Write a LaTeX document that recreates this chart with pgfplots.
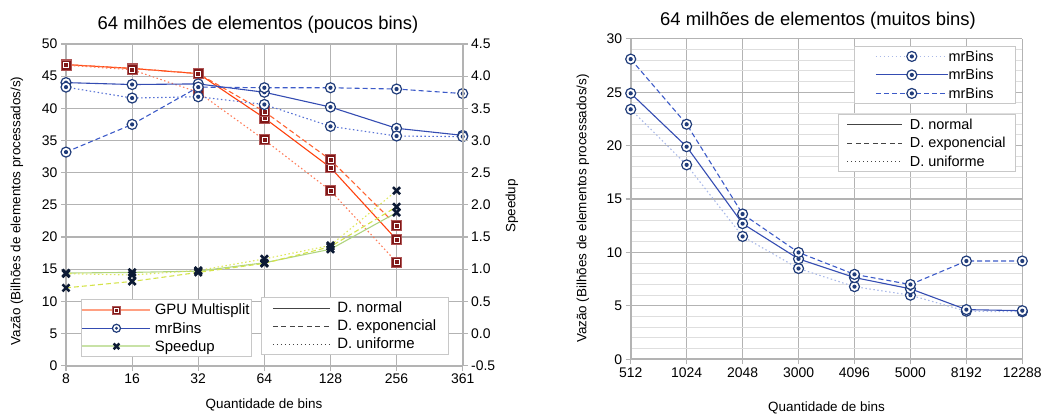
\documentclass[border=0pt]{standalone}
\usepackage{fontspec}
\setmainfont{Liberation Sans}
\usepackage{pgfplots}
\usepackage{pgfplotstable}
\pgfplotsset{compat=1.18}

\definecolor{gridc}{RGB}{179,179,179}
\definecolor{minorc}{RGB}{222,222,222}
\definecolor{legc}{RGB}{200,200,200}
\definecolor{gpuN}{RGB}{255,66,14}
\definecolor{gpuE}{RGB}{255,100,50}
\definecolor{gpuU}{RGB}{255,125,90}
\definecolor{gpuLeg}{RGB}{255,160,130}
\definecolor{gpuFill}{RGB}{128,24,24}
\definecolor{gpuEdge}{RGB}{175,85,85}
\definecolor{mrN}{RGB}{52,76,178}
\definecolor{mrE}{RGB}{60,90,200}
\definecolor{mrU}{RGB}{85,112,212}
\definecolor{mrUlight}{RGB}{170,185,232}
\definecolor{mrDot}{RGB}{32,60,122}
\definecolor{spN}{RGB}{176,212,128}
\definecolor{spE}{RGB}{212,227,74}
\definecolor{spU}{RGB}{222,232,90}
\definecolor{spLeg}{RGB}{200,226,166}
\definecolor{spMark}{RGB}{12,26,52}
\definecolor{styleLeg}{RGB}{68,68,68}

\pgfdeclareplotmark{gpusq}{%
  \pgfsetlinewidth{0.8bp}%
  \pgfsetstrokecolor{gpuEdge}\pgfsetfillcolor{gpuFill}%
  \pgfpathrectangle{\pgfqpoint{-\pgfplotmarksize}{-\pgfplotmarksize}}{\pgfqpoint{2\pgfplotmarksize}{2\pgfplotmarksize}}%
  \pgfusepathqfillstroke
  \pgfsetstrokecolor{white}\pgfsetlinewidth{0.7bp}%
  \pgfpathrectangle{\pgfqpoint{-0.5\pgfplotmarksize}{-0.5\pgfplotmarksize}}{\pgfqpoint{\pgfplotmarksize}{\pgfplotmarksize}}%
  \pgfusepathqstroke
}
\pgfdeclareplotmark{mrring}{%
  \pgfsetlinewidth{1.2bp}%
  \pgfsetstrokecolor{mrDot}\pgfsetfillcolor{white}%
  \pgfpathcircle{\pgfpointorigin}{\pgfplotmarksize}%
  \pgfusepathqfillstroke
  \pgfsetfillcolor{mrDot}%
  \pgfpathcircle{\pgfpointorigin}{0.42\pgfplotmarksize}%
  \pgfusepathqfill
}

% poucos bins: x = 0..6 -> 8,16,32,64,128,256,361
\pgfplotstableread{
x gpuN gpuE gpuU mrN mrE mrU spN spE spU
0 46.8 46.8 46.7 44.0 33.2 43.3 0.94 0.71 0.93
1 46.2 46.2 46.0 43.7 37.5 41.6 0.95 0.81 0.91
2 45.4 45.4 42.5 43.8 43.3 41.8 0.97 0.95 0.98
3 38.5 39.5 35.1 42.5 43.2 40.6 1.10 1.09 1.16
4 30.8 32.0 27.2 40.2 43.2 37.2 1.31 1.35 1.37
5 19.6 21.8 16.1 36.9 43.0 35.7 1.88 1.97 2.22
6 nan nan nan 35.8 42.3 35.6 nan nan nan
}\poucos

% muitos bins: x = 0..7 -> 512 ... 12288
\pgfplotstableread{
x N E U
0 24.9 28.1 23.4
1 19.9 22.0 18.2
2 12.7 13.6 11.5
3 9.4 10.0 8.5
4 7.65 7.95 6.8
5 6.6 7.0 6.0
6 4.65 9.2 4.5
7 4.55 9.2 4.45
}\muitos

\newcommand{\tickfont}{\fontsize{14}{16}\selectfont}
\newcommand{\labfont}{\fontsize{13.5}{16}\selectfont}
\newcommand{\titfont}{\fontsize{18.5}{22}\selectfont}
\newcommand{\ls}{\rule[-3.5bp]{0pt}{14.5bp}}

\pgfplotsset{
  base/.style={
    scale only axis, anchor=south west,
    tick align=outside, major tick length=5bp, minor tick length=0bp,
    tick style={gridc, line width=1.2bp},
    axis line style={gridc, line width=1.8bp},
    grid style={gridc, line width=1.1bp},
    ticklabel style={font=\tickfont},
    /pgf/number format/assume math mode=true,
    legend cell align=left,
  },
  leg/.style n args={4}{legend style={at={#1}, anchor=#2, draw=legc, line width=1bp,
    fill=white, font=\fontsize{15}{18}\selectfont, inner xsep=#3, inner ysep=2.5bp,
    row sep=#4, nodes={inner sep=1.5bp}}},
  dline/.style={line width=1.1bp},
  dash/.style={dash pattern=on 5bp off 3bp},
  dots/.style={dash pattern=on 1.5bp off 2.5bp},
}

\begin{document}
\begin{tikzpicture}
\path[use as bounding box] (0,0) rectangle (1042bp,414bp);

% ---------- esquerda: eixo principal ----------
\begin{axis}[base,
  at={(66bp,48.3bp)}, width=396.7bp, height=321.7bp,
  xmin=0, xmax=6, ymin=0, ymax=50,
  axis x line*=bottom, axis y line*=left,
  xtick pos=lower, ytick pos=left,
  xtick={0,...,6}, xticklabels={8,16,32,64,128,256,361},
  ytick={0,5,...,50},
  xmajorgrids, ymajorgrids,
  leg={(0.038,0.206)}{north west}{0bp}{2.6bp},
  legend style={/tikz/every odd column/.append style={column sep=2bp}},
  legend image code/.code={\draw[mark repeat=2,mark phase=2,#1] plot coordinates {(0bp,0bp) (34bp,0bp) (68bp,0bp)};},
]
\addplot[forget plot, gpuN, dline, mark=gpusq, mark size=5bp, mark options={solid}] table[x=x,y=gpuN]{\poucos};
\addplot[forget plot, gpuE, dline, dash, mark=gpusq, mark size=5bp, mark options={solid}] table[x=x,y=gpuE]{\poucos};
\addplot[forget plot, gpuU, dline, dots, mark=gpusq, mark size=5bp, mark options={solid}] table[x=x,y=gpuU]{\poucos};
\addplot[forget plot, mrN, dline, mark=mrring, mark size=5bp, mark options={solid}] table[x=x,y=mrN]{\poucos};
\addplot[forget plot, mrE, dline, dash, mark=mrring, mark size=5bp, mark options={solid}] table[x=x,y=mrE]{\poucos};
\addplot[forget plot, mrU, dline, dots, mark=mrring, mark size=5bp, mark options={solid}] table[x=x,y=mrU]{\poucos};
\addlegendimage{gpuLeg, line width=1.8bp, mark=gpusq, mark size=4bp}
\addlegendentry{\ls GPU Multisplit}
\addlegendimage{mrN, line width=1.1bp, mark=mrring, mark size=4bp}
\addlegendentry{\ls mrBins}
\addlegendimage{spLeg, line width=1.8bp, mark=x, mark size=4bp, mark options={draw=spMark, line width=2.4bp}}
\addlegendentry{\ls Speedup}
\end{axis}

% ---------- esquerda: eixo do speedup ----------
\begin{axis}[base,
  at={(66bp,48.3bp)}, width=396.7bp, height=321.7bp,
  xmin=0, xmax=6, ymin=-0.5, ymax=4.5,
  axis x line=none, axis y line*=right, ytick pos=right,
  xtick=\empty,
  ytick={-0.5,0,...,4.5},
  yticklabel style={/pgf/number format/.cd, fixed, fixed zerofill, precision=1},
  leg={(0.4923,0.2126)}{north west}{10.5bp}{2.6bp},
  legend style={/tikz/every odd column/.append style={column sep=5.6bp}},
  legend image code/.code={\draw[#1] (0bp,0bp) -- (57bp,0bp);},
]
\addplot[forget plot, spN, dline, mark=x, mark size=5bp, mark options={solid, draw=spMark, line width=2.6bp}] table[x=x,y=spN]{\poucos};
\addplot[forget plot, spE, dline, dash, mark=x, mark size=5bp, mark options={solid, draw=spMark, line width=2.6bp}] table[x=x,y=spE]{\poucos};
\addplot[forget plot, spU, dline, dots, mark=x, mark size=5bp, mark options={solid, draw=spMark, line width=2.6bp}] table[x=x,y=spU]{\poucos};
\addlegendimage{styleLeg, line width=1bp}
\addlegendentry{\ls D. normal}
\addlegendimage{styleLeg, line width=1bp, dash pattern=on 5bp off 3.5bp}
\addlegendentry{\ls D. exponencial}
\addlegendimage{styleLeg, line width=1bp, dash pattern=on 1bp off 3bp}
\addlegendentry{\ls D. uniforme}
\end{axis}

% ---------- direita ----------
\begin{axis}[base,
  at={(630.7bp,54.7bp)}, width=391.6bp, height=320.5bp,
  xmin=0, xmax=7, ymin=0, ymax=30,
  axis x line*=bottom, axis y line*=left,
  xtick pos=lower, ytick pos=left,
  xtick={0,...,7}, xticklabels={512,1024,2048,3000,4096,5000,8192,12288},
  ytick={0,5,...,30}, minor y tick num=4,
  xmajorgrids, ymajorgrids, yminorgrids,
  minor grid style={minorc, line width=1bp},
  leg={(0.984,0.9785)}{north east}{20.5bp}{3bp},
  legend style={font=\fontsize{14.5}{17}\selectfont, /tikz/every odd column/.append style={column sep=-1.3bp}},
  legend image code/.code={\draw[mark repeat=2,mark phase=2,#1] plot coordinates {(0bp,0bp) (36bp,0bp) (72bp,0bp)};},
]
\addplot[mrUlight, dline, dots, mark=mrring, mark size=5bp, mark options={solid}] table[x=x,y=U]{\muitos};
\addlegendentry{\ls mrBins}
\addplot[mrN, dline, mark=mrring, mark size=5bp, mark options={solid}] table[x=x,y=N]{\muitos};
\addlegendentry{\ls mrBins}
\addplot[mrE, dline, dash, mark=mrring, mark size=5bp, mark options={solid}] table[x=x,y=E]{\muitos};
\addlegendentry{\ls mrBins}
\end{axis}

\begin{axis}[base,
  at={(630.7bp,54.7bp)}, width=391.6bp, height=320.5bp,
  xmin=0, xmax=7, ymin=0, ymax=30, hide axis,
  leg={(0.984,0.7654)}{north east}{8.5bp}{3bp},
  legend style={font=\fontsize{14.5}{17}\selectfont, /tikz/every odd column/.append style={column sep=5.7bp}},
  legend image code/.code={\draw[#1] (0bp,0bp) -- (55bp,0bp);},
]
\addlegendimage{styleLeg, line width=1bp}
\addlegendentry{\ls D. normal}
\addlegendimage{styleLeg, line width=1bp, dash pattern=on 5bp off 3.5bp}
\addlegendentry{\ls D. exponencial}
\addlegendimage{styleLeg, line width=1bp, dash pattern=on 1bp off 3bp}
\addlegendentry{\ls D. uniforme}
\end{axis}

% ---------- titulos e rotulos ----------
\node[font=\titfont, anchor=base] at (258bp,384bp) {64 milhões de elementos (poucos bins)};
\node[font=\titfont, anchor=base] at (818bp,388bp) {64 milhões de elementos (muitos bins)};
\node[font=\labfont, anchor=base] at (264bp,6bp) {Quantidade de bins};
\node[font=\labfont, anchor=base] at (826.5bp,2.6bp) {Quantidade de bins};
\node[font=\labfont, rotate=90] at (17bp,203bp) {Vazão (Bilhões de elementos processados/s)};
\node[font=\labfont, rotate=90] at (512bp,208bp) {Speedup};
\node[font=\labfont, rotate=90] at (583bp,205.5bp) {Vazão (Bilhões de elementos processados/s)};
\end{tikzpicture}
\end{document}
